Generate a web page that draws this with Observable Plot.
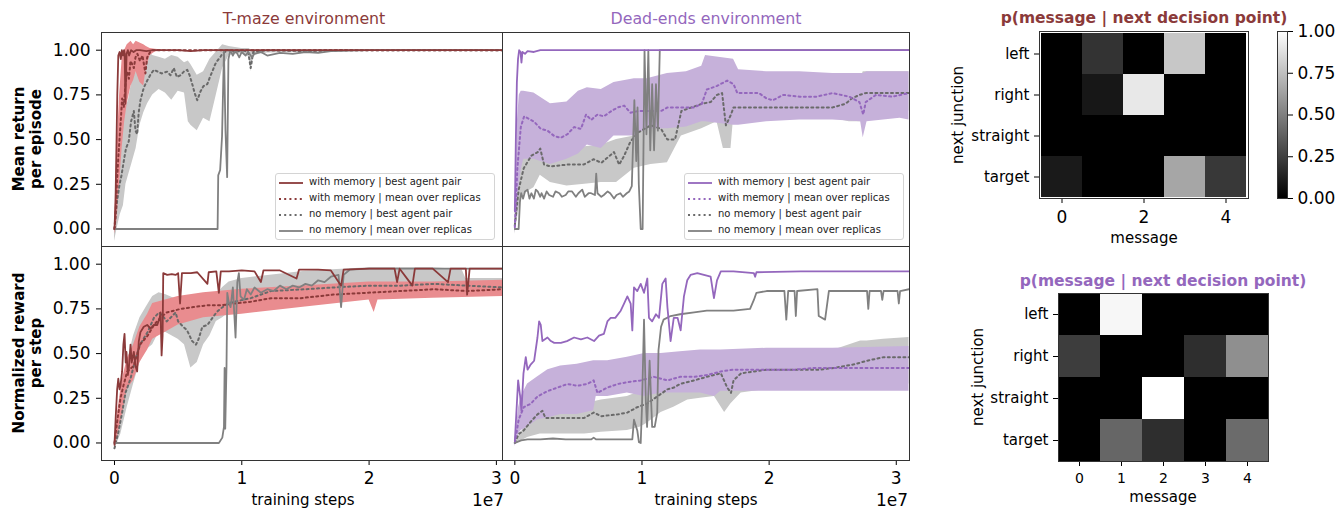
<!DOCTYPE html>
<html><head><meta charset="utf-8">
<script src="https://cdn.jsdelivr.net/npm/d3@7"></script>
<script src="https://cdn.jsdelivr.net/npm/@observablehq/plot@0.6"></script>
<style>
body{margin:0;background:#fff;font-family:"DejaVu Sans",sans-serif;}
#fig{position:relative;width:1340px;height:509px;overflow:hidden;background:#fff;}
.abs{position:absolute;}
.lbl{position:absolute;white-space:nowrap;transform:translate(-50%,-50%);color:#000;font-family:"DejaVu Sans",sans-serif;}
.ylab{position:absolute;white-space:nowrap;transform:translate(-50%,-50%) rotate(-90deg);text-align:center;font-weight:bold;font-size:15px;line-height:17px;color:#000;font-family:"DejaVu Sans",sans-serif;}
.legend{position:absolute;width:220px;height:67px;border:1px solid #d4d4d4;border-radius:3px;background:rgba(255,255,255,0.85);box-sizing:border-box;font-family:"DejaVu Sans",sans-serif;font-size:10px;color:#222;}
.legend .row{position:absolute;left:0;height:16px;width:100%;}
.legend svg{position:absolute;left:2px;top:3px;}
.legend span{position:absolute;left:33px;top:1px;white-space:nowrap;}
.h1 [aria-label^="x-axis"], .h1 [aria-label^="x-axis"] text{font-size:17px;}
.h1 [aria-label^="y-axis"], .h1 [aria-label^="y-axis"] text{font-size:15px;}
.h2 [aria-label^="x-axis"], .h2 [aria-label^="x-axis"] text{font-size:14px;}
.h2 [aria-label^="y-axis"], .h2 [aria-label^="y-axis"] text{font-size:15px;}
</style></head><body><div id="fig"></div>
<script>
// ---------------- data (x in units of 1e7 training steps) ----------------
// T-maze, mean return per episode
const tmRetMemBest = [[0,0],[0.008,0.15],[0.015,0.45],[0.022,0.75],[0.03,0.97],[0.04,0.99],[0.05,0.95],[0.058,1.0],[0.066,0.97],[0.075,1.0],[0.08,0.98],[0.086,0.7],[0.095,0.98],[0.105,1.0],[0.115,0.97],[0.13,1.0],[0.15,0.99],[0.17,1.0],[0.2,1.0],[0.25,0.995],[0.3,1.0],[0.5,1.0],[0.6,0.995],[0.7,1.0],[1.0,1.0],[1.5,1.0],[2.0,1.0],[2.5,1.0],[3.05,1.0]];
const tmRetMemMean = [[0,0],[0.01,0.1],[0.02,0.27],[0.03,0.4],[0.047,0.58],[0.06,0.73],[0.073,0.68],[0.086,0.81],[0.1,0.88],[0.113,0.84],[0.126,0.94],[0.14,0.92],[0.152,0.9],[0.165,0.96],[0.18,0.98],[0.2,0.94],[0.22,0.97],[0.243,0.87],[0.257,0.96],[0.28,0.99],[0.3,1.0],[0.4,1.0],[3.05,1.0]];
const tmRetMemBand = [[0,-0.03,0.03],[0.02,0.05,0.45],[0.04,0.25,0.75],[0.06,0.45,0.95],[0.08,0.6,1.0],[0.1,0.7,1.03],[0.13,0.8,1.05],[0.15,0.83,1.03],[0.17,0.88,1.05],[0.2,0.82,1.04],[0.23,0.8,1.03],[0.25,0.9,1.02],[0.28,0.97,1.01],[0.32,0.99,1.005],[0.4,1.0,1.0],[3.05,1.0,1.0]];
const tmRetNoBest = [[0,0],[0.01,0.08],[0.021,0.16],[0.04,0.25],[0.055,0.3],[0.073,0.38],[0.09,0.45],[0.112,0.49],[0.13,0.6],[0.152,0.66],[0.165,0.55],[0.178,0.53],[0.19,0.65],[0.204,0.72],[0.23,0.79],[0.257,0.83],[0.28,0.86],[0.309,0.89],[0.34,0.88],[0.37,0.87],[0.414,0.88],[0.44,0.86],[0.466,0.9],[0.49,0.85],[0.519,0.86],[0.545,0.88],[0.572,0.89],[0.59,0.86],[0.611,0.81],[0.63,0.76],[0.65,0.72],[0.676,0.77],[0.7,0.8],[0.729,0.81],[0.75,0.85],[0.768,0.88],[0.79,0.92],[0.807,0.94],[0.83,0.96],[0.847,0.98],[0.886,1.0],[0.95,0.99],[1.0,1.0],[1.05,0.99],[1.07,0.9],[1.09,0.99],[1.2,1.0],[1.5,0.995],[1.8,1.0],[3.05,1.0]];
const tmRetNoBand = [[0,-0.07,0.02],[0.02,0.0,0.35],[0.045,0.08,0.5],[0.07,0.13,0.6],[0.09,0.25,0.68],[0.11,0.3,0.72],[0.13,0.35,0.8],[0.15,0.4,0.85],[0.17,0.45,0.88],[0.2,0.58,0.95],[0.23,0.65,0.99],[0.26,0.7,1.0],[0.3,0.75,0.97],[0.35,0.78,0.96],[0.4,0.76,0.95],[0.45,0.72,0.97],[0.5,0.77,0.96],[0.55,0.76,0.93],[0.58,0.6,0.94],[0.6,0.58,0.92],[0.65,0.55,0.86],[0.7,0.62,0.88],[0.75,0.6,0.95],[0.8,0.75,0.99],[0.85,0.9,1.03],[0.9,0.97,1.02],[1.0,0.98,1.01],[1.06,0.96,1.01],[1.07,0.88,1.0],[1.09,0.97,1.0],[1.2,0.985,1.0],[1.8,0.99,1.0],[2.0,1.0,1.0],[3.05,1.0,1.0]];
const tmRetNoMean = [[0,0],[0.2,0],[0.4,0],[0.6,0],[0.81,0],[0.815,0.3],[0.83,0.33],[0.845,0.52],[0.86,1.0],[0.872,0.55],[0.885,0.29],[0.895,0.95],[0.91,1.0],[0.93,0.97],[0.95,1.0],[0.98,0.96],[1.0,0.99],[1.03,0.97],[1.05,0.99],[1.08,0.96],[1.1,0.98],[1.15,0.99],[1.2,0.97],[1.3,0.985],[1.4,0.98],[1.5,0.99],[1.6,0.985],[1.7,0.995],[2.0,1.0],[3.05,1.0]];

// Dead-ends, mean return per episode
const deRetMemBest = [[0,0.1],[0.008,0.5],[0.016,0.82],[0.025,0.95],[0.034,1.0],[0.045,0.99],[0.052,0.93],[0.06,0.99],[0.08,0.98],[0.1,0.995],[0.15,0.99],[0.2,1.0],[0.5,1.0],[1.0,1.0],[2.0,1.0],[3.1,1.0]];
const deRetMemMean = [[0,0.01],[0.02,0.34],[0.047,0.57],[0.073,0.63],[0.1,0.62],[0.152,0.6],[0.204,0.56],[0.257,0.55],[0.31,0.52],[0.36,0.51],[0.414,0.53],[0.466,0.57],[0.52,0.56],[0.56,0.64],[0.6,0.61],[0.65,0.64],[0.7,0.63],[0.76,0.66],[0.81,0.68],[0.86,0.69],[0.91,0.65],[0.97,0.66],[1.05,0.66],[1.15,0.66],[1.2,0.68],[1.31,0.68],[1.41,0.68],[1.47,0.7],[1.51,0.78],[1.59,0.8],[1.67,0.83],[1.72,0.81],[1.75,0.76],[1.82,0.76],[1.92,0.76],[1.98,0.73],[2.03,0.72],[2.11,0.75],[2.24,0.74],[2.37,0.74],[2.5,0.76],[2.63,0.74],[2.71,0.71],[2.74,0.64],[2.76,0.71],[2.84,0.75],[2.97,0.74],[3.1,0.76]];
const deRetMemBand = [[0,-0.02,0.05],[0.02,0.1,0.6],[0.035,0.25,0.75],[0.05,0.33,0.77],[0.07,0.39,0.77],[0.15,0.39,0.76],[0.28,0.36,0.7],[0.41,0.39,0.71],[0.5,0.42,0.77],[0.57,0.47,0.79],[0.68,0.45,0.78],[0.78,0.52,0.82],[0.94,0.52,0.84],[1.04,0.56,0.84],[1.2,0.56,0.87],[1.35,0.57,0.88],[1.47,0.6,0.91],[1.5,0.6,0.97],[1.72,0.58,0.95],[1.76,0.58,0.89],[1.98,0.6,0.88],[2.24,0.61,0.88],[2.5,0.61,0.87],[2.72,0.6,0.87],[2.74,0.51,0.87],[2.77,0.6,0.88],[3.03,0.62,0.88],[3.1,0.61,0.88]];
const deRetNoBest = [[0,0.02],[0.03,0.22],[0.07,0.34],[0.13,0.41],[0.18,0.43],[0.2,0.45],[0.23,0.36],[0.28,0.35],[0.41,0.36],[0.54,0.36],[0.62,0.39],[0.68,0.37],[0.73,0.4],[0.78,0.43],[0.82,0.36],[0.86,0.41],[0.91,0.49],[0.97,0.54],[1.02,0.56],[1.07,0.58],[1.15,0.56],[1.2,0.5],[1.26,0.5],[1.31,0.66],[1.39,0.68],[1.47,0.7],[1.54,0.71],[1.59,0.75],[1.63,0.76],[1.66,0.58],[1.7,0.64],[1.72,0.68],[1.85,0.68],[1.98,0.68],[2.24,0.68],[2.5,0.68],[2.6,0.7],[2.65,0.73],[2.71,0.75],[2.76,0.76],[2.89,0.76],[3.1,0.76]];
const deRetNoBand = [[0,-0.03,0.05],[0.03,0.1,0.3],[0.05,0.18,0.38],[0.1,0.21,0.45],[0.15,0.23,0.45],[0.2,0.3,0.46],[0.28,0.26,0.44],[0.41,0.24,0.45],[0.55,0.25,0.46],[0.68,0.26,0.47],[0.8,0.26,0.5],[0.94,0.34,0.52],[1.07,0.36,0.62],[1.2,0.37,0.6],[1.31,0.52,0.71],[1.47,0.56,0.76],[1.59,0.6,0.8],[1.64,0.45,0.78],[1.7,0.45,0.74],[1.72,0.62,0.74],[1.98,0.62,0.74],[2.24,0.62,0.74],[2.5,0.62,0.74],[2.63,0.6,0.78],[2.72,0.6,0.84],[2.74,0.6,0.88],[2.77,0.66,0.88],[3.0,0.67,0.88],[3.1,0.66,0.88]];
const deRetNoMean = [[0,0.0],[0.03,0.0],[0.04,0.15],[0.05,0.2],[0.065,0.17],[0.08,0.21],[0.1,0.22],[0.115,0.17],[0.13,0.2],[0.15,0.17],[0.165,0.22],[0.18,0.21],[0.2,0.18],[0.21,0.2],[0.23,0.17],[0.25,0.21],[0.27,0.19],[0.3,0.18],[0.32,0.21],[0.35,0.2],[0.37,0.18],[0.4,0.19],[0.42,0.21],[0.45,0.21],[0.48,0.18],[0.5,0.2],[0.53,0.22],[0.55,0.18],[0.58,0.2],[0.6,0.2],[0.63,0.19],[0.64,0.31],[0.65,0.2],[0.68,0.18],[0.7,0.19],[0.73,0.21],[0.75,0.2],[0.78,0.17],[0.8,0.19],[0.83,0.2],[0.85,0.18],[0.88,0.2],[0.9,0.21],[0.92,0.24],[0.94,0.72],[0.955,0.38],[0.965,0.68],[0.975,0.25],[0.99,0.0],[1.005,0.0],[1.02,1.0],[1.035,0.53],[1.05,1.0],[1.065,0.44],[1.08,0.81],[1.095,0.44],[1.11,0.81],[1.125,0.55],[1.14,1.0],[1.2,1.0],[3.1,1.0]];

// T-maze, normalized reward per step
const tmRwdMemBest = [[0,-0.01],[0.01,0.15],[0.021,0.3],[0.03,0.36],[0.04,0.3],[0.047,0.32],[0.06,0.4],[0.07,0.55],[0.079,0.61],[0.088,0.45],[0.094,0.51],[0.105,0.38],[0.113,0.42],[0.126,0.55],[0.135,0.45],[0.152,0.51],[0.165,0.43],[0.178,0.4],[0.191,0.57],[0.204,0.62],[0.23,0.65],[0.257,0.66],[0.283,0.64],[0.31,0.66],[0.336,0.66],[0.355,0.7],[0.362,0.73],[0.37,0.49],[0.378,0.6],[0.383,0.95],[0.414,0.94],[0.45,0.945],[0.48,0.94],[0.5,0.95],[0.515,0.78],[0.53,0.95],[0.6,0.95],[0.65,0.955],[0.73,0.89],[0.74,0.955],[0.8,0.96],[0.82,0.84],[0.835,0.96],[0.9,0.96],[1.0,0.965],[1.1,0.96],[1.15,0.9],[1.17,0.965],[1.3,0.965],[1.43,0.92],[1.45,0.97],[1.6,0.97],[1.7,0.965],[1.78,0.88],[1.8,0.97],[2.0,0.975],[2.2,0.975],[2.22,0.9],[2.24,0.975],[2.34,0.88],[2.36,0.975],[2.5,0.975],[2.62,0.9],[2.64,0.975],[2.76,0.975],[2.77,0.83],[2.79,0.975],[2.9,0.975],[3.05,0.975]];
const tmRwdMemMean = [[0,0],[0.021,0.12],[0.047,0.25],[0.07,0.32],[0.1,0.4],[0.15,0.43],[0.2,0.55],[0.26,0.6],[0.31,0.66],[0.36,0.7],[0.41,0.73],[0.52,0.75],[0.62,0.76],[0.73,0.77],[0.83,0.77],[0.94,0.78],[1.07,0.79],[1.23,0.81],[1.46,0.81],[1.72,0.83],[1.98,0.84],[2.25,0.85],[2.51,0.86],[2.77,0.85],[3.05,0.86]];
const tmRwdMemBand = [[0,-0.03,0.02],[0.03,0.05,0.2],[0.06,0.15,0.35],[0.1,0.3,0.47],[0.15,0.35,0.55],[0.2,0.45,0.65],[0.26,0.52,0.72],[0.3,0.58,0.78],[0.4,0.62,0.8],[0.5,0.66,0.82],[0.7,0.7,0.84],[1.0,0.72,0.86],[1.5,0.76,0.88],[2.0,0.8,0.9],[2.04,0.73,0.9],[2.07,0.8,0.9],[2.5,0.81,0.9],[3.05,0.82,0.91]];
const tmRwdNoBest = [[0,-0.03],[0.03,0.06],[0.06,0.17],[0.086,0.28],[0.126,0.36],[0.165,0.47],[0.2,0.55],[0.26,0.62],[0.31,0.7],[0.35,0.73],[0.38,0.71],[0.41,0.68],[0.44,0.7],[0.48,0.73],[0.5,0.68],[0.54,0.65],[0.57,0.63],[0.61,0.57],[0.64,0.55],[0.66,0.58],[0.69,0.65],[0.73,0.66],[0.77,0.7],[0.8,0.73],[0.83,0.75],[0.89,0.78],[0.94,0.79],[1.07,0.81],[1.23,0.85],[1.5,0.86],[1.72,0.87],[2.0,0.88],[2.25,0.88],[2.51,0.89],[2.77,0.88],[3.05,0.87]];
const tmRwdNoBand = [[0,-0.04,0.0],[0.05,0.05,0.25],[0.1,0.2,0.45],[0.15,0.33,0.6],[0.2,0.45,0.7],[0.25,0.52,0.76],[0.3,0.55,0.82],[0.35,0.62,0.84],[0.4,0.62,0.83],[0.5,0.58,0.8],[0.55,0.55,0.78],[0.6,0.42,0.75],[0.65,0.45,0.74],[0.7,0.55,0.78],[0.75,0.6,0.8],[0.8,0.68,0.83],[0.85,0.7,0.87],[0.9,0.73,0.9],[1.0,0.75,0.92],[1.5,0.8,0.96],[2.0,0.82,0.98],[2.5,0.83,0.98],[2.73,0.83,0.97],[2.76,0.83,0.92],[3.05,0.83,0.92]];
const tmRwdNoMean = [[0,0],[0.4,0],[0.82,0],[0.847,0.03],[0.86,0.09],[0.865,0.42],[0.87,0.08],[0.88,0.43],[0.886,0.84],[0.9,0.78],[0.912,0.76],[0.93,0.87],[0.951,0.59],[0.965,0.9],[0.977,0.95],[0.99,0.82],[1.017,0.8],[1.04,0.86],[1.07,0.83],[1.1,0.87],[1.15,0.84],[1.2,0.86],[1.25,0.85],[1.3,0.88],[1.35,0.86],[1.4,0.88],[1.45,0.87],[1.5,0.89],[1.55,0.88],[1.6,0.91],[1.65,0.9],[1.7,0.93],[1.76,0.94],[1.78,0.76],[1.8,0.94],[1.85,0.97],[2.0,0.975],[2.5,0.975],[3.05,0.975]];

// Dead-ends, normalized reward per step
const deRwdMemBest = [[0,0.01],[0.016,0.22],[0.026,0.35],[0.042,0.26],[0.052,0.18],[0.068,0.39],[0.086,0.48],[0.1,0.41],[0.126,0.44],[0.152,0.46],[0.178,0.59],[0.191,0.68],[0.204,0.66],[0.217,0.57],[0.257,0.59],[0.283,0.57],[0.31,0.56],[0.362,0.56],[0.41,0.57],[0.466,0.59],[0.52,0.58],[0.57,0.59],[0.623,0.57],[0.662,0.6],[0.7,0.61],[0.728,0.68],[0.754,0.7],[0.79,0.7],[0.833,0.74],[0.859,0.78],[0.885,0.82],[0.911,0.78],[0.924,0.63],[0.937,0.87],[0.963,0.85],[0.99,0.89],[1.016,0.84],[1.042,0.92],[1.055,0.7],[1.08,0.68],[1.11,0.72],[1.134,0.7],[1.16,0.89],[1.186,0.92],[1.2,0.76],[1.225,0.57],[1.25,0.7],[1.28,0.7],[1.304,0.63],[1.33,0.82],[1.356,0.91],[1.382,0.94],[1.435,0.95],[1.487,0.94],[1.54,0.93],[1.566,0.81],[1.59,0.91],[1.62,0.96],[1.72,0.96],[1.88,0.95],[1.89,0.93],[1.9,0.955],[2.25,0.96],[2.51,0.96],[3.1,0.96]];
const deRwdMemMean = [[0,0.0],[0.03,0.13],[0.07,0.2],[0.126,0.22],[0.178,0.26],[0.257,0.29],[0.336,0.31],[0.414,0.33],[0.49,0.32],[0.57,0.33],[0.62,0.35],[0.65,0.28],[0.728,0.31],[0.81,0.33],[0.885,0.34],[0.99,0.35],[1.094,0.37],[1.2,0.35],[1.3,0.37],[1.41,0.37],[1.51,0.38],[1.62,0.4],[1.72,0.41],[1.88,0.41],[2.04,0.41],[2.2,0.41],[2.35,0.42],[2.51,0.42],[2.67,0.42],[2.82,0.42],[2.95,0.42],[3.1,0.42]];
const deRwdMemBand = [[0,-0.02,0.01],[0.03,0.05,0.2],[0.05,0.07,0.26],[0.1,0.09,0.33],[0.18,0.13,0.37],[0.26,0.14,0.41],[0.36,0.16,0.43],[0.49,0.16,0.44],[0.62,0.18,0.46],[0.64,0.26,0.46],[0.73,0.26,0.46],[0.885,0.28,0.48],[1.02,0.26,0.5],[1.15,0.28,0.5],[1.3,0.28,0.51],[1.46,0.28,0.52],[1.57,0.26,0.52],[1.62,0.29,0.52],[1.98,0.29,0.53],[2.5,0.29,0.53],[3.1,0.29,0.54]];
const deRwdNoBest = [[0,0.0],[0.03,0.05],[0.07,0.07],[0.126,0.12],[0.178,0.16],[0.217,0.18],[0.24,0.14],[0.31,0.14],[0.414,0.14],[0.545,0.14],[0.62,0.17],[0.68,0.15],[0.81,0.16],[0.885,0.17],[0.963,0.2],[1.04,0.22],[1.12,0.26],[1.2,0.3],[1.25,0.31],[1.3,0.33],[1.41,0.35],[1.51,0.37],[1.62,0.39],[1.67,0.31],[1.7,0.28],[1.72,0.35],[1.78,0.39],[1.88,0.4],[1.98,0.41],[2.25,0.41],[2.4,0.41],[2.51,0.42],[2.67,0.44],[2.77,0.46],[2.9,0.48],[2.98,0.48],[3.1,0.48]];
const deRwdNoBand = [[0,-0.01,0.0],[0.1,0.03,0.12],[0.2,0.05,0.2],[0.31,0.05,0.22],[0.55,0.05,0.22],[0.68,0.06,0.24],[0.885,0.07,0.26],[0.99,0.09,0.29],[1.04,0.11,0.31],[1.15,0.17,0.34],[1.25,0.2,0.37],[1.36,0.24,0.4],[1.46,0.25,0.42],[1.57,0.26,0.43],[1.65,0.17,0.43],[1.7,0.22,0.44],[1.78,0.28,0.45],[1.98,0.3,0.48],[2.25,0.31,0.5],[2.51,0.31,0.52],[2.72,0.32,0.57],[2.77,0.33,0.57],[2.9,0.33,0.58],[3.1,0.33,0.59]];
const deRwdNoMean = [[0,0.0],[0.05,0.015],[0.1,0.02],[0.2,0.02],[0.3,0.025],[0.4,0.02],[0.5,0.02],[0.6,0.02],[0.62,0.03],[0.64,0.02],[0.8,0.02],[0.924,0.02],[0.937,0.13],[0.963,0.07],[0.976,0.005],[0.99,0.0],[1.0,0.2],[1.016,0.69],[1.03,0.24],[1.04,0.09],[1.06,0.46],[1.08,0.09],[1.1,0.09],[1.12,0.17],[1.13,0.52],[1.15,0.65],[1.17,0.69],[1.225,0.71],[1.3,0.72],[1.41,0.73],[1.51,0.74],[1.62,0.74],[1.72,0.74],[1.85,0.75],[1.88,0.8],[1.9,0.84],[1.98,0.85],[2.12,0.85],[2.135,0.69],[2.15,0.85],[2.2,0.85],[2.21,0.71],[2.22,0.85],[2.38,0.86],[2.39,0.71],[2.44,0.69],[2.47,0.85],[2.64,0.85],[2.77,0.85],[2.78,0.75],[2.79,0.85],[2.88,0.85],[2.89,0.8],[2.9,0.85],[3.01,0.85],[3.02,0.78],[3.03,0.85],[3.1,0.86]];

// heatmaps p(message | next decision point)
const messages = [0, 1, 2, 3, 4];
const junctions = ["left", "right", "straight", "target"];
const tmazeP = [[0, 0.2, 0, 0.78, 0], [0, 0.09, 0.91, 0, 0], [0, 0, 0, 0, 0], [0.1, 0, 0, 0.65, 0.22]];
const deadP  = [[0, 0.97, 0, 0, 0], [0.24, 0, 0, 0.18, 0.56], [0, 0, 1, 0, 0], [0, 0.4, 0.18, 0, 0.42]];

const yTicks = [0, 0.25, 0.5, 0.75, 1];
const xTicks = [0, 1, 2, 3];
const legendLabels = ["with memory | best agent pair", "with memory | mean over replicas", "no memory | best agent pair", "no memory | mean over replicas"];

// ---------------- styling ----------------
const RED = "#8b3a3a", RED_BAND = "#e98c8f";
const PURPLE = "#9467bd", PURPLE_BAND = "#c6b1da";
const GRAY = "#808080", GRAY_DOT = "#6a6a6a", GRAY_BAND = "#c8c8c8";
const FONT = "DejaVu Sans";
const DOT = "2,3.2";

const fig = document.getElementById("fig");
function place(node, left, top, cls) {
  const d = document.createElement("div");
  d.className = "abs" + (cls ? " " + cls : "");
  d.style.left = left + "px"; d.style.top = top + "px";
  d.appendChild(node); fig.appendChild(d); return d;
}
function label(text, x, y, css) {
  const d = document.createElement("div");
  d.className = "lbl"; d.textContent = text;
  d.style.left = x + "px"; d.style.top = y + "px";
  Object.assign(d.style, css || {});
  fig.appendChild(d); return d;
}
const pts = a => a.map(([x, y]) => ({x, y}));
const band = a => a.map(([x, lo, hi]) => ({x, lo, hi}));

function linePanel(o) {
  return Plot.plot({
    width: o.width, height: o.height,
    marginLeft: o.ml, marginRight: 0, marginTop: o.mt, marginBottom: o.mb,
    style: {fontFamily: FONT, fontSize: "17px", color: "#000", background: "transparent", overflow: "visible", maxWidth: "none"},
    x: {domain: o.xDomain, axis: o.showX ? "bottom" : null, ticks: xTicks, tickFormat: d => String(d), tickSize: 5, tickPadding: 6, label: null},
    y: {domain: [-0.098, 1.099], axis: o.showY ? "left" : null, ticks: yTicks, tickFormat: d3.format(".2f"), tickSize: 5, tickPadding: 6, label: null},
    marks: [
      Plot.areaY(band(o.noBand), {x: "x", y1: "lo", y2: "hi", fill: GRAY_BAND, clip: true}),
      Plot.areaY(band(o.memBand), {x: "x", y1: "lo", y2: "hi", fill: o.bandColor, clip: true}),
      Plot.line(pts(o.noBest), {x: "x", y: "y", stroke: GRAY_DOT, strokeWidth: 2, strokeDasharray: DOT, clip: true}),
      Plot.line(pts(o.memMean), {x: "x", y: "y", stroke: o.color, strokeWidth: 2, strokeDasharray: DOT, clip: true}),
      Plot.line(pts(o.noMean), {x: "x", y: "y", stroke: GRAY, strokeWidth: 1.8, clip: true}),
      Plot.line(pts(o.memBest), {x: "x", y: "y", stroke: o.color, strokeWidth: 1.8, clip: true}),
      Plot.frame({stroke: "#333"})
    ]
  });
}

const XL = [-0.102, 3.048], XR = [-0.097, 3.104];
place(linePanel({width: 502, height: 246, ml: 101, mt: 32, mb: 0, xDomain: XL, showX: false, showY: true,
  memBest: tmRetMemBest, memMean: tmRetMemMean, memBand: tmRetMemBand, noBest: tmRetNoBest, noBand: tmRetNoBand, noMean: tmRetNoMean,
  color: RED, bandColor: RED_BAND}), 0, 0);
place(linePanel({width: 407, height: 246, ml: 0, mt: 32, mb: 0, xDomain: XR, showX: false, showY: false,
  memBest: deRetMemBest, memMean: deRetMemMean, memBand: deRetMemBand, noBest: deRetNoBest, noBand: deRetNoBand, noMean: deRetNoMean,
  color: PURPLE, bandColor: PURPLE_BAND}), 502, 0);
place(linePanel({width: 502, height: 254, ml: 101, mt: 0, mb: 40, xDomain: XL, showX: true, showY: true,
  memBest: tmRwdMemBest, memMean: tmRwdMemMean, memBand: tmRwdMemBand, noBest: tmRwdNoBest, noBand: tmRwdNoBand, noMean: tmRwdNoMean,
  color: RED, bandColor: RED_BAND}), 0, 246);
place(linePanel({width: 407, height: 254, ml: 0, mt: 0, mb: 40, xDomain: XR, showX: true, showY: false,
  memBest: deRwdMemBest, memMean: deRwdMemMean, memBand: deRwdMemBand, noBest: deRwdNoBest, noBand: deRwdNoBand, noMean: deRwdNoMean,
  color: PURPLE, bandColor: PURPLE_BAND}), 502, 246);

// titles and labels
label("T-maze environment", 304, 18, {fontSize: "15.8px", color: RED});
label("Dead-ends environment", 706, 18, {fontSize: "15.8px", color: PURPLE});
label("training steps", 303, 500, {fontSize: "15px"});
label("training steps", 706, 500, {fontSize: "15px"});
label("1e7", 488, 500, {fontSize: "17px"});
label("1e7", 892, 500, {fontSize: "17px"});
function ylab(lines, x, y) {
  const d = document.createElement("div");
  d.className = "ylab"; d.innerHTML = lines.join("<br>");
  d.style.left = x + "px"; d.style.top = y + "px"; fig.appendChild(d);
}
ylab(["Mean return", "per episode"], 28, 139);
ylab(["Normalized reward", "per step"], 28, 353);

// legends
function legend(left, top, color) {
  const box = document.createElement("div");
  box.className = "legend"; box.style.left = left + "px"; box.style.top = top + "px";
  const styles = [[color, null], [color, DOT], [GRAY_DOT, DOT], [GRAY, null]];
  legendLabels.forEach((t, i) => {
    const row = document.createElement("div");
    row.className = "row"; row.style.top = (1 + i * 15.9) + "px";
    const [c, dash] = styles[i];
    row.innerHTML = `<svg width="26" height="10"><line x1="1" y1="5" x2="25" y2="5" stroke="${c}" stroke-width="${dash ? 2 : 1.8}" ${dash ? `stroke-dasharray="${dash}"` : ""}/></svg><span>${t}</span>`;
    box.appendChild(row);
  });
  fig.appendChild(box);
}
legend(275, 173, RED);
legend(684, 173, PURPLE);

// heatmaps
function heat(P, opts) {
  const cells = junctions.flatMap((j, i) => messages.map((m, k) => ({message: m, junction: j, p: P[i][k]})));
  return Plot.plot({
    width: opts.width, height: opts.height,
    marginLeft: opts.ml, marginRight: 0, marginTop: opts.mt, marginBottom: 0,
    style: {fontFamily: FONT, fontSize: "15px", color: "#000", background: "transparent", overflow: "visible", maxWidth: "none"},
    x: {type: "band", domain: messages, padding: 0, ticks: opts.xt, tickSize: 5, tickPadding: 7, label: null},
    y: {type: "band", domain: junctions, padding: 0, tickSize: 5, tickPadding: 5, label: null},
    color: {type: "linear", domain: [0, 1], range: ["#000000", "#ffffff"], interpolate: "rgb"},
    marks: [
      Plot.cell(cells, {x: "message", y: "junction", fill: "p"}),
      Plot.frame({stroke: "#333"})
    ]
  });
}
place(heat(tmazeP, {width: 318, height: 198, ml: 109, mt: 31, xt: [0, 2, 4]}), 930, 0, "h1");
place(heat(deadP, {width: 338, height: 168, ml: 128, mt: 0, xt: messages}), 930, 293, "h2");

label("p(message | next decision point)", 1144, 18, {fontSize: "15.5px", fontWeight: "bold", color: RED});
label("p(message | next decision point)", 1163, 281, {fontSize: "15.5px", fontWeight: "bold", color: PURPLE});
label("message", 1144, 238, {fontSize: "15px"});
label("message", 1163, 497, {fontSize: "15px"});
label("next junction", 958, 115, {fontSize: "15px", transform: "translate(-50%,-50%) rotate(-90deg)"});
label("next junction", 978, 377, {fontSize: "15px", transform: "translate(-50%,-50%) rotate(-90deg)"});

// colorbar
const grad = document.createElement("div");
grad.className = "abs";
Object.assign(grad.style, {left: "1277px", top: "31px", width: "10px", height: "167px", background: "linear-gradient(to top, #000, #fff)"});
fig.appendChild(grad);
const cbar = Plot.plot({
  width: 63, height: 167, marginLeft: 0, marginRight: 53, marginTop: 0, marginBottom: 0,
  style: {fontFamily: FONT, fontSize: "17px", color: "#000", background: "transparent", overflow: "visible", maxWidth: "none"},
  x: {axis: null, domain: [0, 1]},
  y: {domain: [0, 1], axis: "right", ticks: yTicks, tickFormat: d3.format(".2f"), tickSize: 5, tickPadding: 5, label: null},
  marks: [Plot.ruleY([0, 1], {strokeOpacity: 0}), Plot.frame({stroke: "#333"})]
});
place(cbar, 1277, 31);
</script></body></html>
